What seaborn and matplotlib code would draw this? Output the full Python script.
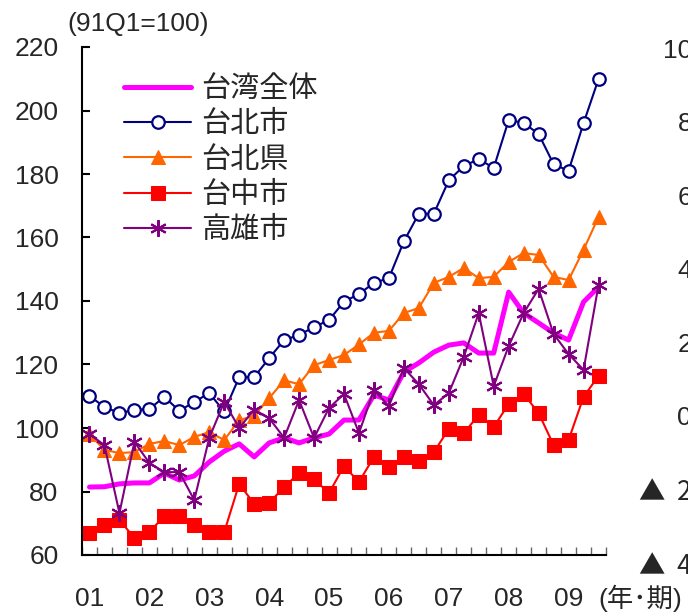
import numpy as np
import pandas as pd
import matplotlib.pyplot as plt
import seaborn as sns

# -----------------------------
# Data (index, 91Q1=100), 2001Q1 - 2009Q3
# -----------------------------
years = ["01", "02", "03", "04", "05", "06", "07", "08", "09"]
quarters = [f"{y}Q{q}" for y in years for q in range(1, 5)][:35]

taiwan = [81.4, 81.5, 82.4, 82.7, 82.7, 85.8, 83.6, 84.9, 89.3, 92.7, 95.0, 90.9,
          95.3, 96.9, 95.3, 96.9, 98.1, 102.5, 102.5, 110.4, 108.8, 117.6, 120.5, 123.9,
          126.1, 126.8, 123.6, 123.6, 142.8, 136.2, 133.1, 129.9, 127.7, 139.7, 144.4]
taipei_city = [110.1, 106.6, 104.7, 105.7, 106.0, 109.8, 105.4, 108.2, 111.0, 105.2, 116.0, 116.0,
               122.0, 127.7, 129.3, 131.8, 134.0, 139.8, 142.2, 145.7, 147.2, 158.8, 167.5, 167.5,
               178.0, 182.5, 184.7, 181.9, 197.0, 196.1, 192.6, 183.1, 181.0, 196.0, 209.9]
taipei_county = [98.0, 93.1, 92.1, 92.4, 95.0, 95.9, 94.6, 97.2, 98.7, 96.2, 102.5, 103.8,
                 109.4, 115.0, 113.8, 119.8, 121.4, 123.0, 126.3, 130.0, 130.6, 136.2, 137.8, 145.7,
                 147.6, 150.4, 147.2, 147.6, 152.3, 155.1, 154.5, 147.6, 146.6, 156.1, 166.5]
taichung = [67.0, 69.4, 71.0, 65.4, 67.2, 72.3, 72.3, 69.4, 67.2, 67.2, 82.4, 76.1,
            76.4, 81.4, 85.8, 83.9, 79.5, 88.0, 83.0, 90.9, 87.7, 90.9, 89.5, 92.4,
            99.7, 98.4, 104.1, 100.3, 107.6, 110.7, 104.7, 94.6, 96.2, 109.8, 116.4]
kaohsiung = [98.1, 94.6, 73.2, 95.6, 89.0, 86.1, 86.1, 77.3, 96.9, 108.2, 100.0, 105.8,
             103.1, 96.9, 108.8, 96.9, 106.3, 110.7, 98.4, 112.0, 106.9, 118.9, 113.8, 107.2,
             111.0, 122.4, 136.2, 113.2, 125.8, 136.2, 143.8, 129.6, 123.3, 118.3, 145.0]

right_ticks = [-4, -2, 0, 2, 4, 6, 8, 10]
right_labels = ["▲  4", "▲  2", "0", "2", "4", "6", "8", "10"]

df = pd.DataFrame({
    "q": np.arange(len(quarters)),
    "台湾全体": taiwan,
    "台北市": taipei_city,
    "台北県": taipei_county,
    "台中市": taichung,
    "高雄市": kaohsiung,
})

# -----------------------------
# Style
# -----------------------------
sns.set_style("white")
plt.rcParams["font.family"] = ["Liberation Sans", "Noto Sans CJK JP", "DejaVu Sans"]

W, H = 688, 614
fig = plt.figure(figsize=(W / 100, H / 100), dpi=100)
ax = fig.add_axes([82 / W, 1 - 555 / H, (606 - 82) / W, (555 - 47) / H])

styles = {
    "台湾全体": dict(color="#FF00FF", lw=3.6),
    "台北市": dict(color="#000080", lw=1.5, marker="o", ms=9, mfc="white",
                 mec="#000080", mew=1.6),
    "台北県": dict(color="#FF6600", lw=1.5, marker="^", ms=10.5, mec="#FF6600"),
    "台中市": dict(color="#FF0000", lw=1.5, marker="s", ms=9.5, mec="#FF0000"),
    "高雄市": dict(color="#800080", lw=1.5, marker=(6, 2, 0), ms=12,
                 mec="#800080", mew=1.5),
}
for name, kw in styles.items():
    sns.lineplot(data=df, x="q", y=name, ax=ax, label=name, **kw)

ax.set_xlim(-0.5, len(quarters) - 0.5)
ax.set_ylim(60, 220)
ax.set_yticks(np.arange(60, 221, 20))
ax.set_xticks(np.arange(0, len(quarters), 4))
ax.set_xticklabels(years)
ax.set_xticks(np.arange(-0.5, len(quarters), 1), minor=True)
ax.set_xlabel("")
ax.set_ylabel("")

for s in ["top", "right"]:
    ax.spines[s].set_visible(False)
for s in ["left", "bottom"]:
    ax.spines[s].set_color("black")
    ax.spines[s].set_linewidth(1.5)

ax.tick_params(axis="y", direction="in", length=6, width=1.5, color="black",
               labelsize=19, pad=17, left=True)
ax.tick_params(axis="x", which="major", length=0, labelsize=19, pad=23, bottom=True)
ax.tick_params(axis="x", which="minor", direction="in", length=6, width=1,
               color="#666666", bottom=True)

ax.legend(loc="upper left", bbox_to_anchor=(124 / W, 1 - 75 / H),
          bbox_transform=fig.transFigure, frameon=False, fontsize=21,
          handlelength=2.3, handletextpad=0.35, labelspacing=0.25,
          borderpad=0, borderaxespad=0)

# right-hand scale (cut off at the image edge, as in the source)
ax2 = fig.add_axes([82 / W, 1 - 563 / H, (606 - 82) / W, (563 - 48) / H])
ax2.patch.set_visible(False)
for s in ax2.spines.values():
    s.set_visible(False)
ax2.set_xticks([])
ax2.set_ylim(-4, 10)
ax2.yaxis.tick_right()
ax2.set_yticks(right_ticks)
ax2.set_yticklabels(right_labels)
ax2.tick_params(axis="y", length=0, labelsize=19, pad=62)
for t in ax2.get_yticklabels():
    t.set_horizontalalignment("right")
    if "▲" in t.get_text():
        t.set_fontfamily(["Noto Sans CJK JP", "DejaVu Sans"])

fig.text(67 / W, 1 - 24 / H, "(91Q1=100)", fontsize=19, va="center", ha="left")
fig.text(598 / W, 1 - 598 / H, "(年･期)", fontsize=19, va="center", ha="left")

fig.savefig("out.png", dpi=100)
